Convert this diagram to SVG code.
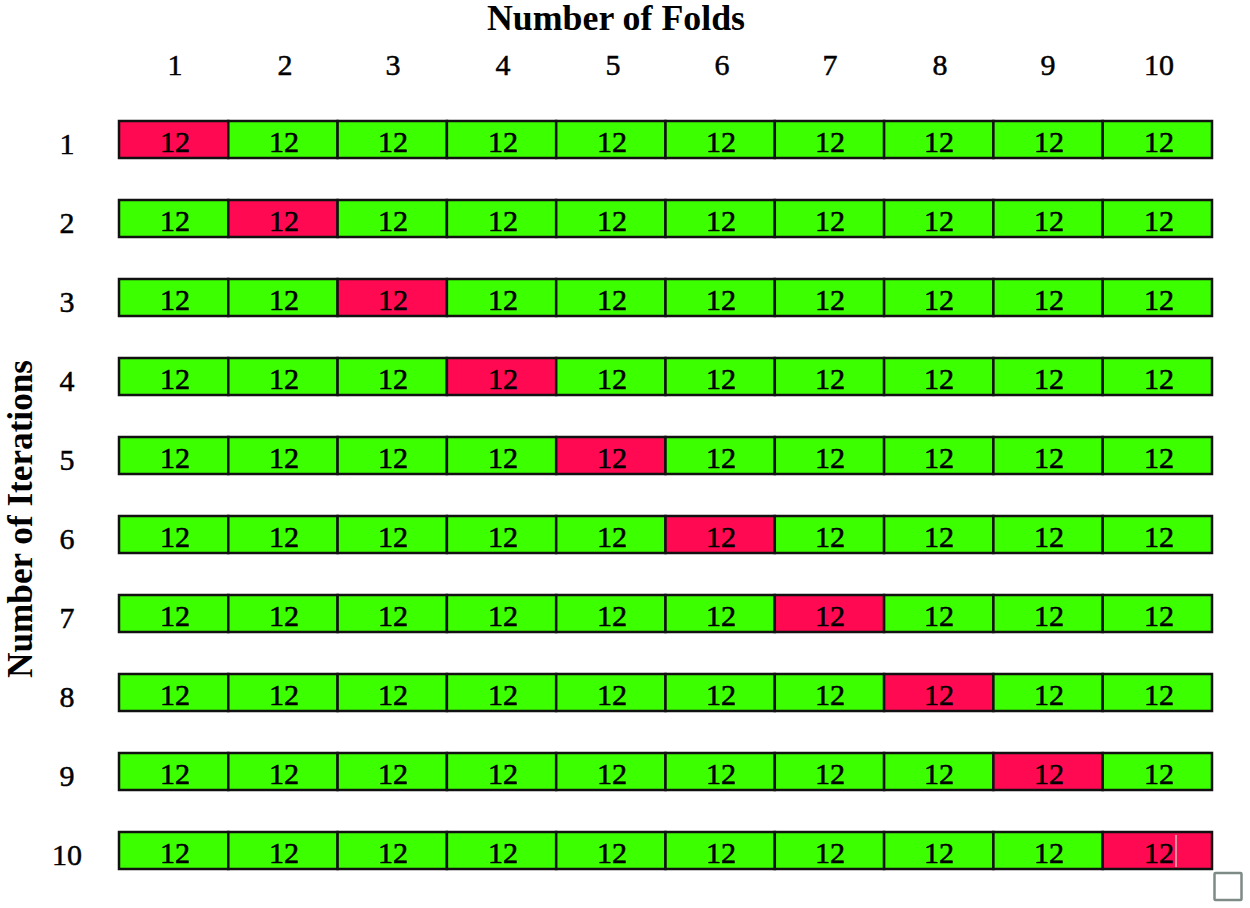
<svg xmlns="http://www.w3.org/2000/svg" width="1250" height="908" viewBox="0 0 1250 908">
<style>
.t{font-family:"Liberation Serif",serif;fill:#000}
.h{font-size:30px;text-anchor:middle;stroke:#000;stroke-width:0.5}
.b{font-weight:bold;font-size:35px;text-anchor:middle}
.c{font-size:30px;text-anchor:middle;stroke:#000;stroke-width:0.6}
.g{fill:#3CFF00;stroke:#111;stroke-width:2.5}
.r{fill:#FF0A52;stroke:#111;stroke-width:2.5}
</style>
<rect width="1250" height="908" fill="#fff"/>
<text class="t b" x="616" y="30" font-size="33" textLength="258" lengthAdjust="spacingAndGlyphs">Number of Folds</text>
<text class="t b" transform="translate(32,519) rotate(-90)" textLength="318" lengthAdjust="spacingAndGlyphs">Number of Iterations</text>
<g id="colheaders">
<text class="t h" x="175" y="75">1</text><text class="t h" x="285" y="75">2</text><text class="t h" x="393" y="75">3</text><text class="t h" x="503" y="75">4</text><text class="t h" x="613" y="75">5</text><text class="t h" x="722" y="75">6</text><text class="t h" x="830" y="75">7</text><text class="t h" x="940" y="75">8</text><text class="t h" x="1048" y="75">9</text><text class="t h" x="1159" y="75">10</text>
</g>
<g id="rowheaders">
<text class="t h" x="67" y="154">1</text><text class="t h" x="67" y="233">2</text><text class="t h" x="67" y="312">3</text><text class="t h" x="67" y="391">4</text><text class="t h" x="67" y="470">5</text><text class="t h" x="67" y="549">6</text><text class="t h" x="67" y="628">7</text><text class="t h" x="67" y="707">8</text><text class="t h" x="67" y="786">9</text><text class="t h" x="67" y="865">10</text>
</g>
<g id="row1" transform="translate(0,121)">
<rect class="r" x="119" y="0" width="109.3" height="37"/><rect class="g" x="228.3" y="0" width="109.3" height="37"/><rect class="g" x="337.6" y="0" width="109.3" height="37"/><rect class="g" x="446.9" y="0" width="109.3" height="37"/><rect class="g" x="556.2" y="0" width="109.3" height="37"/><rect class="g" x="665.5" y="0" width="109.3" height="37"/><rect class="g" x="774.8" y="0" width="109.3" height="37"/><rect class="g" x="884.1" y="0" width="109.3" height="37"/><rect class="g" x="993.4" y="0" width="109.3" height="37"/><rect class="g" x="1102.7" y="0" width="109.3" height="37"/>
<g class="t c"><text x="175" y="31">12</text><text x="284" y="31">12</text><text x="393" y="31">12</text><text x="503" y="31">12</text><text x="612" y="31">12</text><text x="721" y="31">12</text><text x="830" y="31">12</text><text x="939" y="31">12</text><text x="1049" y="31">12</text><text x="1159" y="31">12</text></g>
</g>
<g id="row2" transform="translate(0,200)">
<rect class="g" x="119" y="0" width="109.3" height="37"/><rect class="r" x="228.3" y="0" width="109.3" height="37"/><rect class="g" x="337.6" y="0" width="109.3" height="37"/><rect class="g" x="446.9" y="0" width="109.3" height="37"/><rect class="g" x="556.2" y="0" width="109.3" height="37"/><rect class="g" x="665.5" y="0" width="109.3" height="37"/><rect class="g" x="774.8" y="0" width="109.3" height="37"/><rect class="g" x="884.1" y="0" width="109.3" height="37"/><rect class="g" x="993.4" y="0" width="109.3" height="37"/><rect class="g" x="1102.7" y="0" width="109.3" height="37"/>
<g class="t c"><text x="175" y="31">12</text><text x="284" y="31">12</text><text x="393" y="31">12</text><text x="503" y="31">12</text><text x="612" y="31">12</text><text x="721" y="31">12</text><text x="830" y="31">12</text><text x="939" y="31">12</text><text x="1049" y="31">12</text><text x="1159" y="31">12</text></g>
</g>
<g id="row3" transform="translate(0,279)">
<rect class="g" x="119" y="0" width="109.3" height="37"/><rect class="g" x="228.3" y="0" width="109.3" height="37"/><rect class="r" x="337.6" y="0" width="109.3" height="37"/><rect class="g" x="446.9" y="0" width="109.3" height="37"/><rect class="g" x="556.2" y="0" width="109.3" height="37"/><rect class="g" x="665.5" y="0" width="109.3" height="37"/><rect class="g" x="774.8" y="0" width="109.3" height="37"/><rect class="g" x="884.1" y="0" width="109.3" height="37"/><rect class="g" x="993.4" y="0" width="109.3" height="37"/><rect class="g" x="1102.7" y="0" width="109.3" height="37"/>
<g class="t c"><text x="175" y="31">12</text><text x="284" y="31">12</text><text x="393" y="31">12</text><text x="503" y="31">12</text><text x="612" y="31">12</text><text x="721" y="31">12</text><text x="830" y="31">12</text><text x="939" y="31">12</text><text x="1049" y="31">12</text><text x="1159" y="31">12</text></g>
</g>
<g id="row4" transform="translate(0,358)">
<rect class="g" x="119" y="0" width="109.3" height="37"/><rect class="g" x="228.3" y="0" width="109.3" height="37"/><rect class="g" x="337.6" y="0" width="109.3" height="37"/><rect class="r" x="446.9" y="0" width="109.3" height="37"/><rect class="g" x="556.2" y="0" width="109.3" height="37"/><rect class="g" x="665.5" y="0" width="109.3" height="37"/><rect class="g" x="774.8" y="0" width="109.3" height="37"/><rect class="g" x="884.1" y="0" width="109.3" height="37"/><rect class="g" x="993.4" y="0" width="109.3" height="37"/><rect class="g" x="1102.7" y="0" width="109.3" height="37"/>
<g class="t c"><text x="175" y="31">12</text><text x="284" y="31">12</text><text x="393" y="31">12</text><text x="503" y="31">12</text><text x="612" y="31">12</text><text x="721" y="31">12</text><text x="830" y="31">12</text><text x="939" y="31">12</text><text x="1049" y="31">12</text><text x="1159" y="31">12</text></g>
</g>
<g id="row5" transform="translate(0,437)">
<rect class="g" x="119" y="0" width="109.3" height="37"/><rect class="g" x="228.3" y="0" width="109.3" height="37"/><rect class="g" x="337.6" y="0" width="109.3" height="37"/><rect class="g" x="446.9" y="0" width="109.3" height="37"/><rect class="r" x="556.2" y="0" width="109.3" height="37"/><rect class="g" x="665.5" y="0" width="109.3" height="37"/><rect class="g" x="774.8" y="0" width="109.3" height="37"/><rect class="g" x="884.1" y="0" width="109.3" height="37"/><rect class="g" x="993.4" y="0" width="109.3" height="37"/><rect class="g" x="1102.7" y="0" width="109.3" height="37"/>
<g class="t c"><text x="175" y="31">12</text><text x="284" y="31">12</text><text x="393" y="31">12</text><text x="503" y="31">12</text><text x="612" y="31">12</text><text x="721" y="31">12</text><text x="830" y="31">12</text><text x="939" y="31">12</text><text x="1049" y="31">12</text><text x="1159" y="31">12</text></g>
</g>
<g id="row6" transform="translate(0,516)">
<rect class="g" x="119" y="0" width="109.3" height="37"/><rect class="g" x="228.3" y="0" width="109.3" height="37"/><rect class="g" x="337.6" y="0" width="109.3" height="37"/><rect class="g" x="446.9" y="0" width="109.3" height="37"/><rect class="g" x="556.2" y="0" width="109.3" height="37"/><rect class="r" x="665.5" y="0" width="109.3" height="37"/><rect class="g" x="774.8" y="0" width="109.3" height="37"/><rect class="g" x="884.1" y="0" width="109.3" height="37"/><rect class="g" x="993.4" y="0" width="109.3" height="37"/><rect class="g" x="1102.7" y="0" width="109.3" height="37"/>
<g class="t c"><text x="175" y="31">12</text><text x="284" y="31">12</text><text x="393" y="31">12</text><text x="503" y="31">12</text><text x="612" y="31">12</text><text x="721" y="31">12</text><text x="830" y="31">12</text><text x="939" y="31">12</text><text x="1049" y="31">12</text><text x="1159" y="31">12</text></g>
</g>
<g id="row7" transform="translate(0,595)">
<rect class="g" x="119" y="0" width="109.3" height="37"/><rect class="g" x="228.3" y="0" width="109.3" height="37"/><rect class="g" x="337.6" y="0" width="109.3" height="37"/><rect class="g" x="446.9" y="0" width="109.3" height="37"/><rect class="g" x="556.2" y="0" width="109.3" height="37"/><rect class="g" x="665.5" y="0" width="109.3" height="37"/><rect class="r" x="774.8" y="0" width="109.3" height="37"/><rect class="g" x="884.1" y="0" width="109.3" height="37"/><rect class="g" x="993.4" y="0" width="109.3" height="37"/><rect class="g" x="1102.7" y="0" width="109.3" height="37"/>
<g class="t c"><text x="175" y="31">12</text><text x="284" y="31">12</text><text x="393" y="31">12</text><text x="503" y="31">12</text><text x="612" y="31">12</text><text x="721" y="31">12</text><text x="830" y="31">12</text><text x="939" y="31">12</text><text x="1049" y="31">12</text><text x="1159" y="31">12</text></g>
</g>
<g id="row8" transform="translate(0,674)">
<rect class="g" x="119" y="0" width="109.3" height="37"/><rect class="g" x="228.3" y="0" width="109.3" height="37"/><rect class="g" x="337.6" y="0" width="109.3" height="37"/><rect class="g" x="446.9" y="0" width="109.3" height="37"/><rect class="g" x="556.2" y="0" width="109.3" height="37"/><rect class="g" x="665.5" y="0" width="109.3" height="37"/><rect class="g" x="774.8" y="0" width="109.3" height="37"/><rect class="r" x="884.1" y="0" width="109.3" height="37"/><rect class="g" x="993.4" y="0" width="109.3" height="37"/><rect class="g" x="1102.7" y="0" width="109.3" height="37"/>
<g class="t c"><text x="175" y="31">12</text><text x="284" y="31">12</text><text x="393" y="31">12</text><text x="503" y="31">12</text><text x="612" y="31">12</text><text x="721" y="31">12</text><text x="830" y="31">12</text><text x="939" y="31">12</text><text x="1049" y="31">12</text><text x="1159" y="31">12</text></g>
</g>
<g id="row9" transform="translate(0,753)">
<rect class="g" x="119" y="0" width="109.3" height="37"/><rect class="g" x="228.3" y="0" width="109.3" height="37"/><rect class="g" x="337.6" y="0" width="109.3" height="37"/><rect class="g" x="446.9" y="0" width="109.3" height="37"/><rect class="g" x="556.2" y="0" width="109.3" height="37"/><rect class="g" x="665.5" y="0" width="109.3" height="37"/><rect class="g" x="774.8" y="0" width="109.3" height="37"/><rect class="g" x="884.1" y="0" width="109.3" height="37"/><rect class="r" x="993.4" y="0" width="109.3" height="37"/><rect class="g" x="1102.7" y="0" width="109.3" height="37"/>
<g class="t c"><text x="175" y="31">12</text><text x="284" y="31">12</text><text x="393" y="31">12</text><text x="503" y="31">12</text><text x="612" y="31">12</text><text x="721" y="31">12</text><text x="830" y="31">12</text><text x="939" y="31">12</text><text x="1049" y="31">12</text><text x="1159" y="31">12</text></g>
</g>
<g id="row10" transform="translate(0,832)">
<rect class="g" x="119" y="0" width="109.3" height="37"/><rect class="g" x="228.3" y="0" width="109.3" height="37"/><rect class="g" x="337.6" y="0" width="109.3" height="37"/><rect class="g" x="446.9" y="0" width="109.3" height="37"/><rect class="g" x="556.2" y="0" width="109.3" height="37"/><rect class="g" x="665.5" y="0" width="109.3" height="37"/><rect class="g" x="774.8" y="0" width="109.3" height="37"/><rect class="g" x="884.1" y="0" width="109.3" height="37"/><rect class="g" x="993.4" y="0" width="109.3" height="37"/><rect class="r" x="1102.7" y="0" width="109.3" height="37"/>
<g class="t c"><text x="175" y="31">12</text><text x="284" y="31">12</text><text x="393" y="31">12</text><text x="503" y="31">12</text><text x="612" y="31">12</text><text x="721" y="31">12</text><text x="830" y="31">12</text><text x="939" y="31">12</text><text x="1049" y="31">12</text><text x="1159" y="31">12</text></g>
<line x1="1176" y1="3" x2="1176" y2="35" stroke="#cfe8cf" stroke-width="1.2"/>
</g>
<rect x="1214.5" y="873" width="27" height="27" fill="none" stroke="#7d8a85" stroke-width="2.5" rx="1"/>
</svg>
